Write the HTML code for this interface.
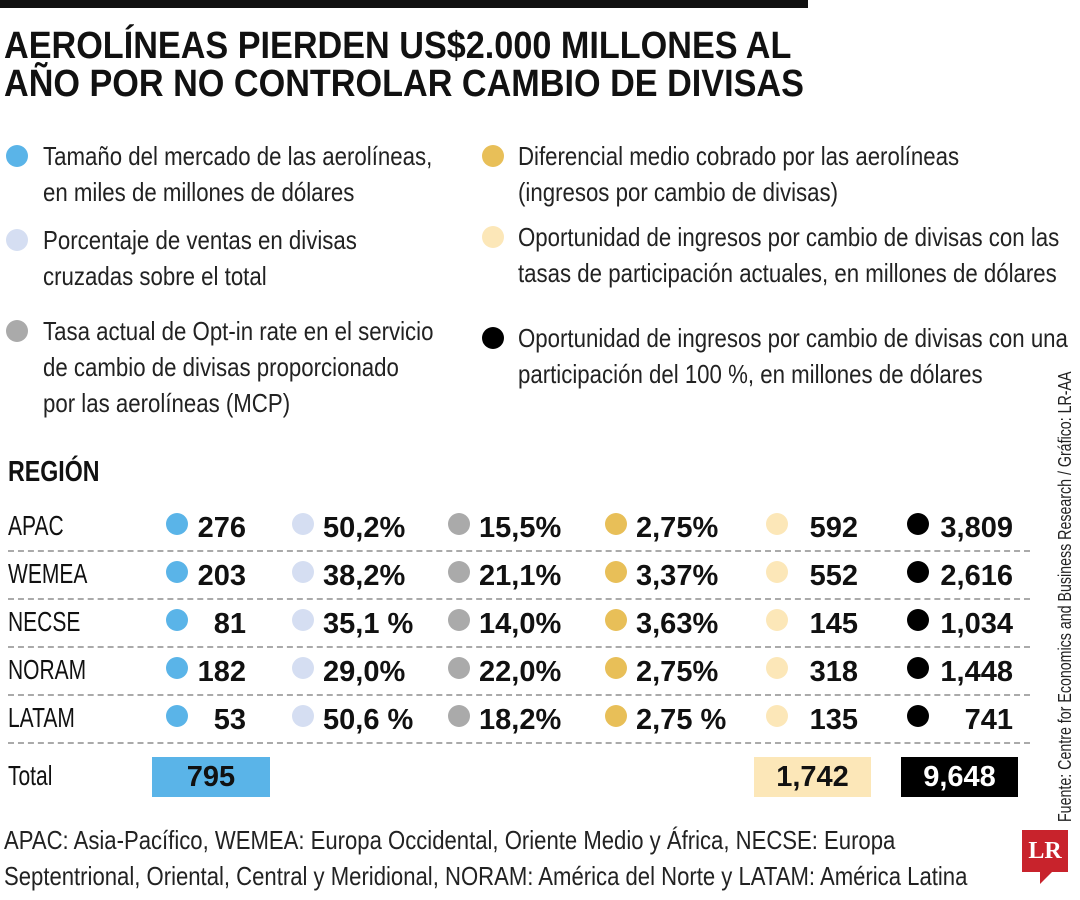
<!DOCTYPE html>
<html><head><meta charset="utf-8"><style>
body{margin:0;width:1080px;height:900px;background:#fff;position:relative;overflow:hidden;font-family:"Liberation Sans Narrow","Liberation Sans",sans-serif;color:#111}
.a{position:absolute;white-space:nowrap}
.t{font-weight:bold;font-size:38px;left:4px;transform:scaleX(0.9);transform-origin:0 0}
.lg{font-size:26px;line-height:36px;transform:scaleX(0.855);transform-origin:0 0;color:#222}
.dot{position:absolute;border-radius:50%;width:22px;height:22px}
.v{position:absolute;font-weight:bold;font-size:29px;text-align:right;line-height:30px}
.r{position:absolute;left:8px;font-size:28px;line-height:30px;transform:scaleX(0.75);transform-origin:0 0}
.sep{position:absolute;left:8px;width:1022px;border-top:2px dashed #aaa}
</style></head><body>
<div class="a" style="left:0;top:0;width:808px;height:8px;background:#111"></div>
<div class="a t" style="top:25px">AEROLÍNEAS PIERDEN US$2.000 MILLONES AL</div>
<div class="a t" style="top:63px">AÑO POR NO CONTROLAR CAMBIO DE DIVISAS</div>

<div>
<div class="dot" style="left:6px;top:145px;background:#5ab4e8"></div>
<div class="a lg" style="left:43px;top:138px">Tamaño del mercado de las aerolíneas,<br>en miles de millones de dólares</div>
<div class="dot" style="left:6px;top:229px;background:#d5def2"></div>
<div class="a lg" style="left:43px;top:222px">Porcentaje de ventas en divisas<br>cruzadas sobre el total</div>
<div class="dot" style="left:6px;top:320px;background:#aaa"></div>
<div class="a lg" style="left:43px;top:313px">Tasa actual de Opt-in rate en el servicio<br>de cambio de divisas proporcionado<br>por las aerolíneas (MCP)</div>
<div class="dot" style="left:482px;top:145px;background:#e8bf58"></div>
<div class="a lg" style="left:518px;top:138px">Diferencial medio cobrado por las aerolíneas<br>(ingresos por cambio de divisas)</div>
<div class="dot" style="left:482px;top:226px;background:#fce7b8"></div>
<div class="a lg" style="left:518px;top:219px">Oportunidad de ingresos por cambio de divisas con las<br>tasas de participación actuales, en millones de dólares</div>
<div class="dot" style="left:482px;top:327px;background:#000"></div>
<div class="a lg" style="left:518px;top:320px">Oportunidad de ingresos por cambio de divisas con una<br>participación del 100 %, en millones de dólares</div>
</div>

<div class="a" style="left:8px;top:456px;font-weight:bold;font-size:29px;transform:scaleX(0.8);transform-origin:0 0">REGIÓN</div>
<div id="tbl"></div>

<div class="a lg" style="left:4px;top:822px;transform:scaleX(0.85)">APAC: Asia-Pacífico, WEMEA: Europa Occidental, Oriente Medio y África, NECSE: Europa<br>Septentrional, Oriental, Central y Meridional, NORAM: América del Norte y LATAM: América Latina</div>
<div class="a" style="left:1053px;top:822px;font-size:18px;transform:rotate(-90deg) scaleX(0.79);transform-origin:0 0;line-height:24px;color:#222">Fuente: Centre for Economics and Business Research / Gráfico: LR-AA</div>
<div class="a" style="left:1022px;top:830px;width:46px;height:42px;background:#c8232c;color:#fff;font-family:'Liberation Serif',serif;font-weight:bold;font-size:24px;text-align:center;line-height:42px">LR</div>
<div class="a" style="left:1040px;top:872px;width:0;height:0;border-left:12px solid #c8232c;border-bottom:12px solid transparent"></div>

<script>
const regions=["APAC","WEMEA","NECSE","NORAM","LATAM"];
const marketSize=["276","203","81","182","53"];
const crossPct=["50,2%","38,2%","35,1 %","29,0%","50,6 %"];
const optIn=["15,5%","21,1%","14,0%","22,0%","18,2%"];
const spread=["2,75%","3,37%","3,63%","2,75%","2,75 %"];
const oppCurrent=["592","552","145","318","135"];
const opp100=["3,809","2,616","1,034","1,448","741"];
const totals=["795","1,742","9,648"];
const cols=[
 {vals:marketSize,dot:"#5ab4e8",dx:166,right:246,name:"market-size"},
 {vals:crossPct,dot:"#d5def2",dx:292,left:323,name:"cross-pct"},
 {vals:optIn,dot:"#aaa",dx:448,left:479,name:"opt-in"},
 {vals:spread,dot:"#e8bf58",dx:605,left:636,name:"spread"},
 {vals:oppCurrent,dot:"#fce7b8",dx:766,right:858,name:"opp-current"},
 {vals:opp100,dot:"#000",dx:907,right:1013,name:"opp-100"}];
const T=document.getElementById('tbl');
regions.forEach((r,i)=>{
 const cy=527+i*48;
 const d=document.createElement('div');d.className='r';d.style.top=(cy-16)+'px';d.textContent=r;
 
 
 T.appendChild(d);
 cols.forEach(c=>{
  const dt=document.createElement('div');dt.className='dot';dt.style.left=c.dx+'px';dt.style.top=(cy-14)+'px';dt.style.background=c.dot;
  
  
  T.appendChild(dt);
  const v=document.createElement('div');v.className='v';v.style.top=(cy-14)+'px';
  if(c.right!==undefined){v.style.right=(1080-c.right)+'px';}else{v.style.left=c.left+'px';v.style.textAlign='left';}
  v.textContent=c.vals[i];
  
  
  T.appendChild(v);
 });
 const s=document.createElement('div');s.className='sep';s.style.top=(cy+23)+'px';
 
 
 T.appendChild(s);
});
const tl=document.createElement('div');tl.className='r';tl.style.top='761px';tl.textContent='Total';


T.appendChild(tl);
const boxes=[{x:152,w:118,bg:"#5ab4e8",fg:"#111",n:"total-market-size"},{x:754,w:117,bg:"#fce7b8",fg:"#111",n:"total-opp-current"},{x:901,w:117,bg:"#000",fg:"#fff",n:"total-opp-100"}];
boxes.forEach((b,i)=>{
 const e=document.createElement('div');e.className='v';
 Object.assign(e.style,{left:b.x+'px',top:'757px',width:b.w+'px',height:'40px',lineHeight:'40px',background:b.bg,color:b.fg,textAlign:'center'});
 e.textContent=totals[i];
 
 
 T.appendChild(e);
});
</script>
</body></html>
